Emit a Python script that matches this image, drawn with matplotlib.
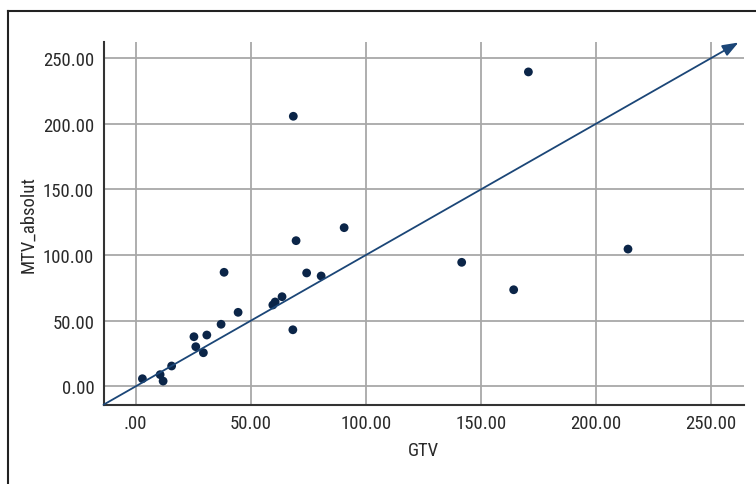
import matplotlib
matplotlib.use("Agg")
import matplotlib.pyplot as plt
from matplotlib.lines import Line2D
from matplotlib import font_manager

gtv = [2.9, 10.6, 11.9, 15.6, 25.3, 26.1, 29.4, 30.9, 37.1, 38.4, 44.5, 59.6,
       60.6, 63.6, 68.3, 69.7, 74.3, 80.6, 68.5, 90.6, 170.7, 141.7, 164.3, 214.0]
mtv = [5.8, 8.9, 4.0, 15.5, 37.8, 30.2, 25.6, 39.1, 47.3, 86.9, 56.4, 62.0,
       64.3, 68.3, 43.1, 111.0, 86.4, 84.1, 205.8, 120.9, 239.6, 94.5, 73.6, 104.6]
xticks = [0, 50, 100, 150, 200, 250]
xticklabels = [".00", "50.00", "100.00", "150.00", "200.00", "250.00"]
yticks = [0, 50, 100, 150, 200, 250]
yticklabels = ["0.00", "50.00", "100.00", "150.00", "200.00", "250.00"]
ref_line = [-14, 262]

names = {f.name for f in font_manager.fontManager.ttflist}
fam = [f for f in ["Liberation Sans Narrow", "Roboto Condensed", "DejaVu Sans Condensed", "DejaVu Sans"] if f in names]
plt.rcParams['font.family'] = fam

W, H = 756, 485
fig = plt.figure(figsize=(W/100, H/100), dpi=100)
ax = fig.add_axes([104/W, 1-405.7/H, (743.7-104)/W, (405.7-43)/H])

ax.set_xlim(-13.8, 264.3)
ax.set_ylim(-14.0, 262.4)
ax.set_xticks(xticks)
ax.set_xticklabels(xticklabels)
ax.set_yticks(yticks)
ax.set_yticklabels(yticklabels)
ax.tick_params(length=0, labelsize=13.5, colors="#2a2a2a", pad=7)
ax.grid(True, color="#a8a8a8", linewidth=1.3)
ax.set_axisbelow(True)
for s in ["top", "right"]:
    ax.spines[s].set_visible(False)
for s in ["left", "bottom"]:
    ax.spines[s].set_color("#333333")
    ax.spines[s].set_linewidth(1.5)

ax.scatter(gtv, mtv, s=40, color="#0b2548", zorder=3, edgecolors="none")
ax.annotate("", xy=(ref_line[1], ref_line[1]), xytext=(ref_line[0], ref_line[0]),
            xycoords="data", annotation_clip=False,
            arrowprops=dict(arrowstyle="-|>,head_length=0.8,head_width=0.3", color="#1b4677", lw=1.3,
                            mutation_scale=12, shrinkA=0, shrinkB=0))

ax.set_xlabel("GTV", fontsize=13.5, color="#2a2a2a", labelpad=6)
ax.set_ylabel("MTV_absolut", fontsize=13.5, color="#2a2a2a", labelpad=4)

fig.add_artist(Line2D([8/W, 8/W], [1-12/H, 0], color="#222222", lw=1.5))
fig.add_artist(Line2D([8/W, 1], [1-12/H, 1-12/H], color="#222222", lw=1.5))

fig.savefig("out.png", dpi=100)
